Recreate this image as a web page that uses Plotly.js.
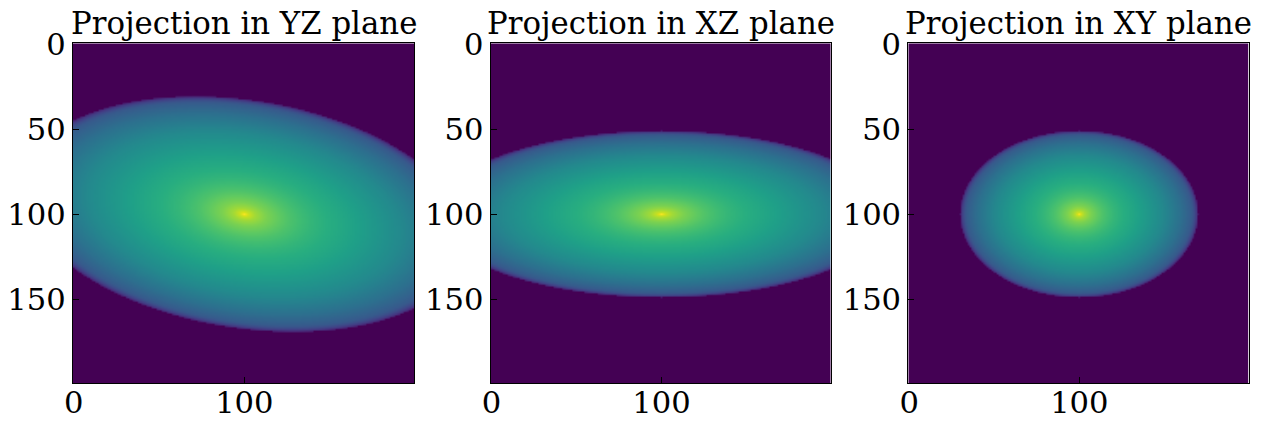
<!DOCTYPE html>
<html>
<head>
<meta charset="utf-8">
<script src="https://cdn.plot.ly/plotly-3.0.1.min.js"></script>
<style>html,body{margin:0;padding:0;background:#fff;}#chart{width:1266px;height:423px;}</style>
</head>
<body>
<div id="chart"></div>
<script>
// Panel titles
const panelTitles = ["Projection in YZ plane", "Projection in XZ plane", "Projection in XY plane"];
// Image grid size (pixels per side)
const gridSize = 200;
// Ellipse footprint of each projection: centre, semi-axes (major, minor) and tilt in degrees
const centreX = [100, 100, 100];
const centreY = [100, 100, 100];
const semiMajor = [132, 133, 70];
const semiMinor = [67, 49, 49];
const tiltDeg = [9, 0, 0];
// Brightness profile: normalised elliptical radius -> level
const profileRadius = [0, 0.02, 0.05, 0.1, 0.2, 0.3, 0.5, 0.7, 0.85, 0.95, 0.97, 0.99, 1.0];
const profileLevel  = [1.0, 0.92, 0.86, 0.8, 0.72, 0.66, 0.57, 0.47, 0.37, 0.28, 0.23, 0.15, 0.07];
// Tick labels
const xTicks = [0, 100];
const yTicks = [0, 50, 100, 150];

function levelAt(m) {
  if (m > 1) return 0;
  for (let k = 1; k < profileRadius.length; k++) {
    if (m <= profileRadius[k]) {
      const t = (m - profileRadius[k-1]) / (profileRadius[k] - profileRadius[k-1]);
      return profileLevel[k-1] + t * (profileLevel[k] - profileLevel[k-1]);
    }
  }
  return profileLevel[profileLevel.length - 1];
}

function buildImage(p) {
  const th = tiltDeg[p] * Math.PI / 180, c = Math.cos(th), s = Math.sin(th);
  const z = [];
  for (let j = 0; j < gridSize; j++) {
    const row = [];
    for (let i = 0; i < gridSize; i++) {
      const dx = i - centreX[p], dy = j - centreY[p];
      const u = dx * c + dy * s, v = -dx * s + dy * c;
      const m = Math.sqrt((u / semiMajor[p]) ** 2 + (v / semiMinor[p]) ** 2);
      row.push(levelAt(m));
    }
    z.push(row);
  }
  return z;
}

const idx = [];
for (let i = 0; i < gridSize; i++) idx.push(i);

const W = 1266, H = 423;
const xPix = [[73, 414], [490.7, 830.7], [908.3, 1248.7]];
const yPix = [43.3, 383.3];
const font = "DejaVu Serif, Liberation Serif, serif";
const fs = 30.6;
const titleFs = 30.8;

const data = [];
const layout = {
  width: W, height: H,
  margin: {l: 0, r: 0, t: 0, b: 0},
  paper_bgcolor: "#fff", plot_bgcolor: "#fff",
  showlegend: false,
  font: {family: font, size: fs, color: "#000"},
  annotations: []
};

for (let p = 0; p < 3; p++) {
  const sfx = p === 0 ? "" : String(p + 1);
  data.push({
    type: "heatmap",
    x: idx, y: idx, z: buildImage(p),
    colorscale: "Viridis", zmin: 0, zmax: 1,
    showscale: false, zsmooth: "fast",
    xaxis: "x" + sfx, yaxis: "y" + sfx,
    hoverinfo: "skip"
  });
  const xd = [xPix[p][0] / W, xPix[p][1] / W];
  const yd = [1 - yPix[1] / H, 1 - yPix[0] / H];
  layout["xaxis" + sfx] = {
    domain: xd, range: [-0.5, gridSize - 0.5], anchor: "y" + sfx,
    tickmode: "array", tickvals: xTicks, ticktext: xTicks.map(String),
    ticks: "inside", ticklen: 6, tickwidth: 1.1, tickcolor: "#000",
    showline: true, mirror: true, linecolor: "#000", linewidth: 1.1,
    showgrid: false, zeroline: false, ticklabelstandoff: -8,
    tickfont: {family: font, size: fs, color: "#000"}
  };
  layout["yaxis" + sfx] = {
    domain: yd, range: [gridSize - 0.5, -0.5], anchor: "x" + sfx,
    tickmode: "array", tickvals: yTicks, ticktext: yTicks.map(String),
    ticks: "inside", ticklen: 6, tickwidth: 1.1, tickcolor: "#000",
    showline: true, mirror: true, linecolor: "#000", linewidth: 1.1,
    showgrid: false, zeroline: false, ticklabelstandoff: 0,
    tickfont: {family: font, size: fs, color: "#000"}
  };
  layout.annotations.push({
    text: panelTitles[p], xref: "paper", yref: "paper",
    x: (xd[0] + xd[1]) / 2, y: yd[1], xanchor: "center", yanchor: "bottom",
    yshift: 0, showarrow: false,
    font: {family: font, size: titleFs, color: "#000"}
  });
}

Plotly.newPlot("chart", data, layout, {displayModeBar: false, staticPlot: true});
</script>
</body>
</html>
